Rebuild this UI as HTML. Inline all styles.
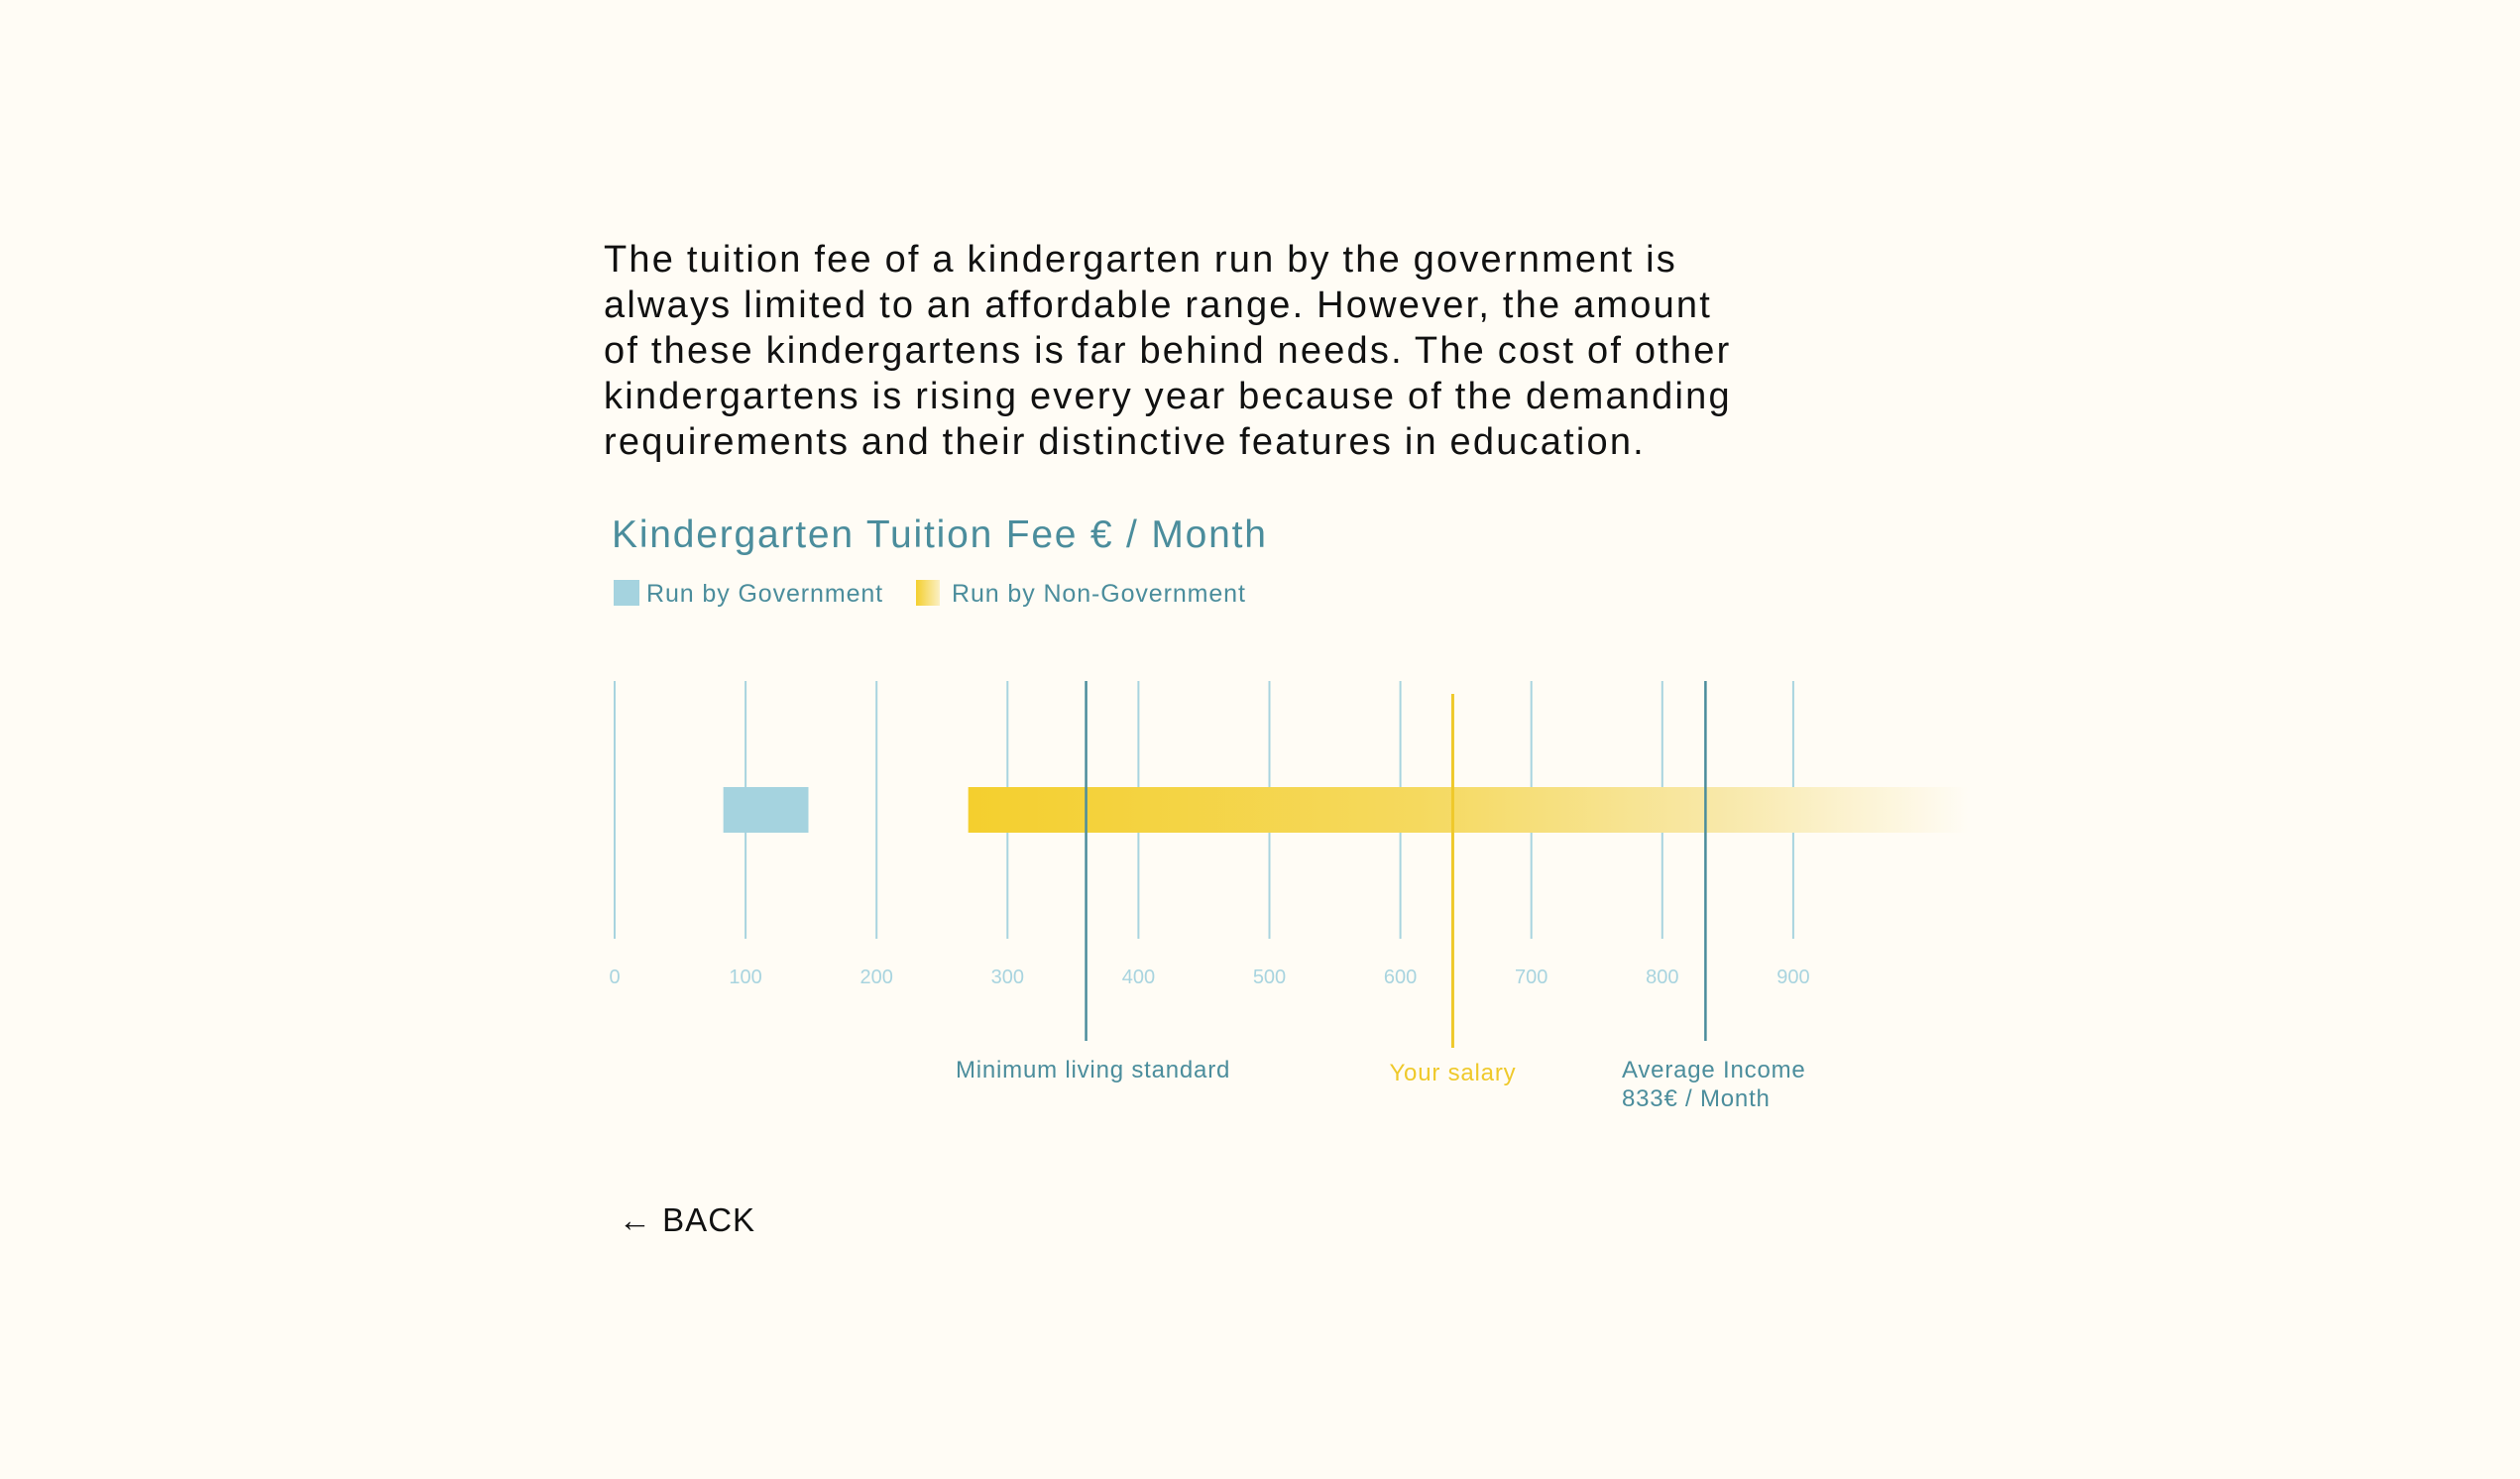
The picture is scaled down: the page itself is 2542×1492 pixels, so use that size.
<!DOCTYPE html>
<html><head><meta charset="utf-8"><style>
body{margin:0;background:#fffcf5;width:2542px;height:1492px;overflow:hidden;font-family:"Liberation Sans",sans-serif}
#intro{position:absolute;left:609px;top:239px;width:1400px;font-size:38px;line-height:46px;color:#111;letter-spacing:2.2px;word-spacing:-1px}
#back{position:absolute;left:624px;top:1212px;font-size:33px;color:#111;cursor:pointer;letter-spacing:1px}
</style></head><body>
<div id="intro">The tuition fee of a kindergarten run by the government is<br>always limited to an affordable range. However, the amount<br>of these kindergartens is far behind needs. The cost of other<br>kindergartens is rising every year because of the demanding<br>requirements and their distinctive features in education.</div>
<svg id="chart" width="2542" height="1492" style="position:absolute;left:0;top:0">
<defs>
<linearGradient id="ng" x1="0" x2="1" y1="0" y2="0"><stop offset="0" stop-color="#f4cf2e"/><stop offset="0.45" stop-color="#f5d95e"/><stop offset="0.75" stop-color="#f8e8a8"/><stop offset="1" stop-color="#fffcf5"/></linearGradient>
<linearGradient id="lg" x1="0" x2="1"><stop offset="0" stop-color="#f4cf2e"/><stop offset="1" stop-color="#fbf0c4"/></linearGradient>
</defs>
<text x="617" y="552" font-size="39" fill="#4b8d9c" letter-spacing="1.8">Kindergarten Tuition Fee  € / Month</text>
<rect x="619" y="585" width="26" height="26" fill="#a5d3df"/>
<text x="652" y="607" font-size="25" fill="#4b8d9c" letter-spacing="0.9">Run by Government</text>
<rect x="924" y="585" width="24" height="26" fill="url(#lg)"/>
<text x="960" y="607" font-size="25" fill="#4b8d9c" letter-spacing="0.9">Run by Non-Government</text>
<g id="g"></g>
</svg>
<div id="back">← BACK</div>
<script>
const ticks=[0,100,200,300,400,500,600,700,800,900];
const govRange=[83,148];
const nonGovRange=[270,1034];
const refValues=[360,640,833];
const refNames=["minimum-living-standard-line","your-salary-line","average-income-line"];
const refLabels=[["Minimum living standard"],["Your  salary"],["Average Income","833€ / Month"]];
const x=v=>620+v*1.321;
const g=document.getElementById('g');
const NS='http://www.w3.org/2000/svg';
function mk(t,a){const e=document.createElementNS(NS,t);for(const k in a)e.setAttribute(k,a[k]);g.appendChild(e);return e;}
ticks.forEach(t=>{
 const l=mk('line',{x1:x(t),x2:x(t),y1:687,y2:947,stroke:'#a8d4df','stroke-width':2});
 
 
 const tx=mk('text',{x:x(t),y:992,'font-size':20,fill:'#a8d4df','text-anchor':'middle'});tx.textContent=t;
 
 
});
const gb=mk('rect',{x:x(govRange[0]),y:794,width:x(govRange[1])-x(govRange[0]),height:46,fill:'#a5d3df'});


const nb=mk('rect',{x:x(nonGovRange[0]),y:794,width:x(nonGovRange[1])-x(nonGovRange[0]),height:46,fill:'url(#ng)'});


refValues.forEach((v,i)=>{
 const sal=i===1;const col=sal?'#efc92a':'#4b8d9c';
 const l=mk('line',{x1:x(v),x2:x(v),y1:sal?700:687,y2:sal?1057:1050,stroke:col,'stroke-width':sal?3:2.5});
 
 
 refLabels[i].forEach((s,j)=>{
  const anchor=i===2?'start':'middle';
  const tx=mk('text',{x:i===2?1636:x(v)+(i===0?7:0),y:(sal?1090:1087)+j*29,'font-size':24,fill:col,'text-anchor':anchor,'letter-spacing':0.8});
  tx.textContent=s;
  
  
 });
});
</script>
</body></html>
